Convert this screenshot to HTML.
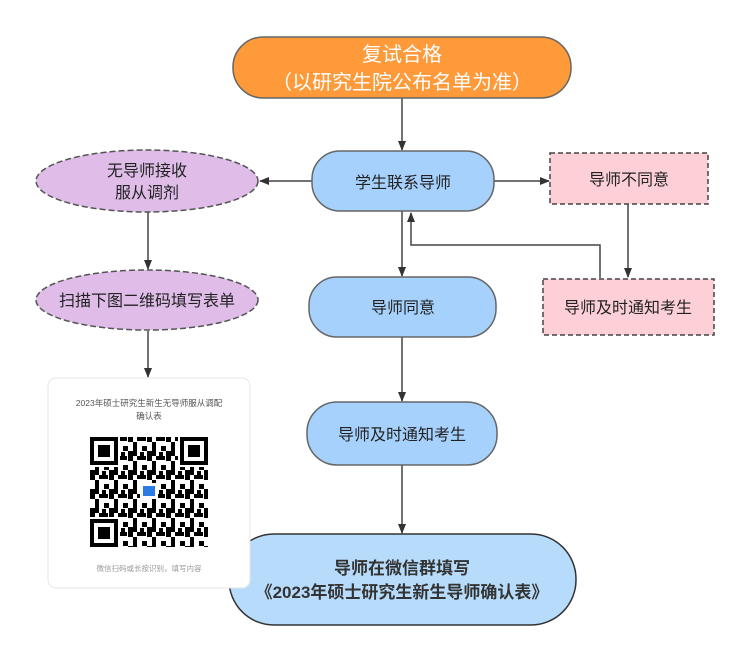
<!DOCTYPE html>
<html><head><meta charset="utf-8"><style>
html,body{margin:0;padding:0;background:#fff}
svg{display:block}
text{font-family:"Liberation Sans","Noto Sans CJK SC",sans-serif}
</style></head><body>
<svg width="740" height="650" viewBox="0 0 740 650" xmlns="http://www.w3.org/2000/svg">
<defs>
<marker id="a" markerWidth="10" markerHeight="10" refX="9" refY="5" orient="auto" markerUnits="userSpaceOnUse">
<path d="M0,1 L10,5 L0,9 Z" fill="#333"/></marker>
<pattern id="qr" width="19" height="19" patternUnits="userSpaceOnUse" x="90" y="437">
<rect x="0" y="0" width="5" height="5" fill="#000"/><rect x="9" y="0" width="9" height="4" fill="#000"/>
<rect x="5" y="5" width="4" height="9" fill="#000"/><rect x="14" y="9" width="5" height="5" fill="#000"/>
<rect x="0" y="14" width="9" height="5" fill="#000"/><rect x="12" y="15" width="4" height="4" fill="#000"/>
</pattern>
</defs>
<g stroke="#444" stroke-width="1.5" fill="none">
<line x1="402" y1="98" x2="402" y2="150" marker-end="url(#a)"/>
<line x1="312" y1="181" x2="260" y2="181" marker-end="url(#a)"/>
<line x1="494" y1="181" x2="549" y2="181" marker-end="url(#a)"/>
<line x1="402" y1="211" x2="402" y2="276" marker-end="url(#a)"/>
<polyline points="600,278 600,245 411,245 411,213" marker-end="url(#a)"/>
<line x1="628" y1="204" x2="628" y2="277" marker-end="url(#a)"/>
<line x1="402" y1="337" x2="402" y2="401" marker-end="url(#a)"/>
<line x1="402" y1="465" x2="402" y2="533" marker-end="url(#a)"/>
<line x1="148" y1="212" x2="148" y2="269" marker-end="url(#a)"/>
<line x1="148" y1="331" x2="148" y2="377" marker-end="url(#a)"/>
</g>
<rect x="233" y="37" width="338" height="61" rx="30" fill="#fe9a3a" stroke="#666" stroke-width="1.5"/>
<text x="402" y="61" font-size="20" fill="#fff" text-anchor="middle">复试合格</text>
<text x="402" y="89" font-size="20" fill="#fff" text-anchor="middle">（以研究生院公布名单为准）</text>
<rect x="312" y="151" width="182" height="60" rx="28" fill="#a6d1fc" stroke="#666" stroke-width="1.5"/>
<text x="403" y="188" font-size="16" fill="#222" text-anchor="middle">学生联系导师</text>
<rect x="550" y="153" width="158" height="51" fill="#fdd0d7" stroke="#444" stroke-width="1.5" stroke-dasharray="5,3"/>
<text x="629" y="185" font-size="16" fill="#222" text-anchor="middle">导师不同意</text>
<rect x="543" y="279" width="171" height="56" fill="#fdd0d7" stroke="#444" stroke-width="1.5" stroke-dasharray="5,3"/>
<text x="628" y="313" font-size="16" fill="#222" text-anchor="middle">导师及时通知考生</text>
<rect x="309" y="277" width="187" height="60" rx="28" fill="#a6d1fc" stroke="#666" stroke-width="1.5"/>
<text x="403" y="313" font-size="16" fill="#222" text-anchor="middle">导师同意</text>
<rect x="307" y="402" width="190" height="63" rx="30" fill="#a6d1fc" stroke="#666" stroke-width="1.5"/>
<text x="402" y="440" font-size="16" fill="#222" text-anchor="middle">导师及时通知考生</text>
<rect x="229" y="534" width="347" height="91" rx="45" fill="#b7dcfb" stroke="#333" stroke-width="1.5"/>
<text x="402" y="574" font-size="17" font-weight="bold" fill="#333" text-anchor="middle">导师在微信群填写</text>
<text x="402" y="598" font-size="17" font-weight="bold" fill="#333" text-anchor="middle">《2023年硕士研究生新生导师确认表》</text>
<ellipse cx="147" cy="181" rx="111" ry="31" fill="#dfbde8" stroke="#555" stroke-width="1.5" stroke-dasharray="6,3"/>
<text x="147" y="176" font-size="16" fill="#222" text-anchor="middle">无导师接收</text>
<text x="147" y="198" font-size="16" fill="#222" text-anchor="middle">服从调剂</text>
<ellipse cx="147" cy="300" rx="111" ry="30" fill="#dfbde8" stroke="#555" stroke-width="1.5" stroke-dasharray="6,3"/>
<text x="147" y="306" font-size="16" fill="#222" text-anchor="middle">扫描下图二维码填写表单</text>
<rect x="48" y="378" width="202" height="210" rx="8" fill="#fff" stroke="#e6e6e6"/>
<text x="149" y="406" font-size="8.5" fill="#555" text-anchor="middle">2023年硕士研究生新生无导师服从调配</text>
<text x="149" y="419" font-size="8.5" fill="#555" text-anchor="middle">确认表</text>
<rect x="90" y="437" width="118" height="110" fill="url(#qr)"/>
<g fill="#fff"><rect x="88" y="435" width="32" height="32"/><rect x="178" y="435" width="32" height="32"/><rect x="88" y="517" width="32" height="32"/></g>
<g fill="#000">
<rect x="90" y="437" width="28" height="28"/><rect x="180" y="437" width="28" height="28"/><rect x="90" y="519" width="28" height="28"/>
</g>
<g fill="#fff"><rect x="94" y="441" width="20" height="20"/><rect x="184" y="441" width="20" height="20"/><rect x="94" y="523" width="20" height="20"/></g>
<g fill="#000"><rect x="98" y="445" width="12" height="12"/><rect x="188" y="445" width="12" height="12"/><rect x="98" y="527" width="12" height="12"/></g>
<rect x="140" y="483" width="18" height="16" fill="#fff"/>
<rect x="143" y="486" width="12" height="10" fill="#2a7be4"/>
<text x="149" y="571" font-size="7.5" fill="#999" text-anchor="middle">微信扫码或长按识别，填写内容</text>
</svg>
</body></html>
